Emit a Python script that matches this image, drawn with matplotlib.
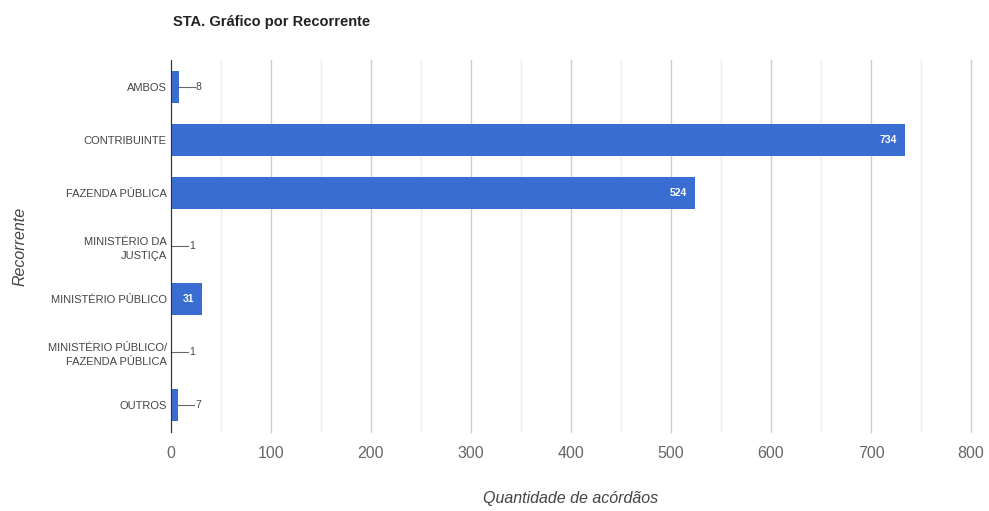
import numpy as np
import matplotlib.pyplot as plt
from matplotlib.ticker import MultipleLocator

plt.rcParams["font.family"] = ["Liberation Sans", "DejaVu Sans"]

recorrentes = ["AMBOS", "CONTRIBUINTE", "FAZENDA PÚBLICA", "MINISTÉRIO DA\nJUSTIÇA",
               "MINISTÉRIO PÚBLICO", "MINISTÉRIO PÚBLICO/\nFAZENDA PÚBLICA", "OUTROS"]
acordaos = [8, 734, 524, 1, 31, 1, 7]

bar_color = "#3a6dd1"

fig = plt.figure(figsize=(9.89, 5.11), dpi=100)
ax = fig.add_axes([171 / 989, 1 - 432 / 511, 800 / 989, 372 / 511])

y = np.arange(len(recorrentes))
ax.barh(y, acordaos, height=0.6, color=bar_color, zorder=3)
ax.set_ylim(len(recorrentes) - 0.5, -0.5)
ax.set_xlim(0, 800)

# gridlines: darker every 100, lighter in between
ax.xaxis.set_major_locator(MultipleLocator(100))
ax.xaxis.set_minor_locator(MultipleLocator(50))
ax.grid(which="major", axis="x", color="#cccccc", lw=1, zorder=0, clip_on=False)
ax.grid(which="minor", axis="x", color="#ebebeb", lw=1, zorder=0)
ax.tick_params(axis="x", which="both", length=0, pad=10, labelsize=11.5, labelcolor="#666666")
ax.tick_params(axis="y", length=0, pad=3, labelsize=8, labelcolor="#444444")
ax.set_yticks(y)
ax.set_yticklabels(recorrentes, linespacing=1.5)
for s in ["top", "right", "bottom"]:
    ax.spines[s].set_visible(False)
ax.spines["left"].set_color("#333333")
ax.spines["left"].set_zorder(4)

# value labels: inside for long bars, outside with a leader line for short ones
for yi, v in zip(y, acordaos):
    if v >= 20:
        ax.text(v - 8, yi, str(v), color="white", fontsize=7.5, fontweight="bold",
                ha="right", va="center", zorder=5)
    else:
        ax.plot([v, v + 16], [yi, yi], color="#666666", lw=0.8, zorder=4)
        ax.text(v + 17, yi, str(v), color="#444444", fontsize=7.5,
                ha="left", va="center", zorder=5)

ax.set_xlabel("Quantidade de acórdãos", fontsize=11.5, style="italic", color="#444444", labelpad=22)
fig.text(20 / 989, 1 - 246 / 511, "Recorrente", fontsize=11.5, style="italic", color="#444444",
         rotation=90, ha="center", va="center")
fig.text(173 / 989, 1 - 22 / 511, "STA. Gráfico por Recorrente", fontsize=10.5,
         fontweight="bold", color="#222222", ha="left", va="center")

fig.savefig("out.png", dpi=100)
